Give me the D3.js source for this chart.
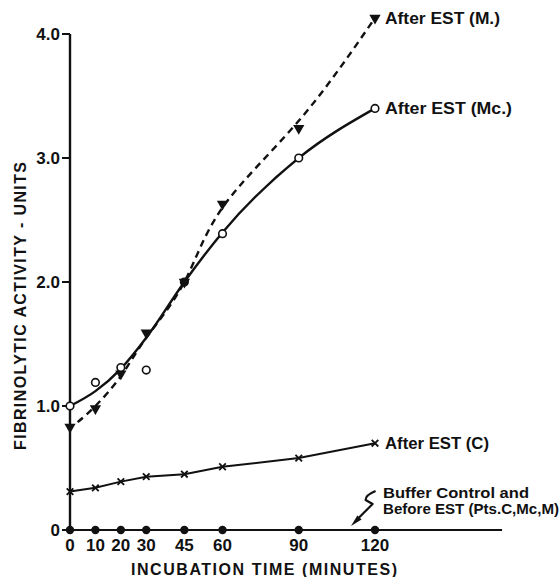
<!DOCTYPE html>
<html>
<head>
<meta charset="utf-8">
<script src="https://cdn.jsdelivr.net/npm/d3@7"></script>
<style>
  body { margin: 0; background: #fff; }
  svg { display: block; }
  text { font-family: "Liberation Sans", Arial, sans-serif; font-weight: bold; fill: #111; }
</style>
</head>
<body>
<div id="chart"></div>
<script>
// incubation times (minutes)
var times = [0, 10, 20, 30, 45, 60, 90, 120];
var tickLabels = ["0", "10", "20", "30", "45", "60", "90", "120"];
var yTicks = [0, 1, 2, 3, 4];
var yTickLabels = ["0", "1.0", "2.0", "3.0", "4.0"];

// fibrinolytic activity, units
var afterM  = [0.83, 0.98, 1.26, 1.59, 2.0, 2.63, 3.24, 4.13];
var mFitTimes = [3, 10, 20, 30, 45, 60, 90, 120];
var mFit    = [0.87, 1.0, 1.24, 1.55, 2.0, 2.6, 3.3, 4.13];  // dashed curve drawn through M
var afterMc = [1.0, 1.19, 1.31, 1.29, 2.0, 2.39, 3.0, 3.40];
var mcFit   = [1.0, 1.12, 1.30, 1.55, 2.0, 2.40, 3.0, 3.40]; // smooth curve drawn through Mc
var afterC  = [0.31, 0.34, 0.39, 0.43, 0.45, 0.51, 0.58, 0.70];
var buffer  = [0, 0, 0, 0, 0, 0, 0, 0];

var width = 559, height = 577;

var svg = d3.select("#chart").append("svg")
    .attr("width", width).attr("height", height);

var x = d3.scaleLinear().domain([0, 120]).range([70, 375]);
var y = d3.scaleLinear().domain([0, 4]).range([530, 34]);

var ink = "#111";

// axes
svg.append("line")
    .attr("x1", x(0)).attr("x2", x(170))
    .attr("y1", y(0)).attr("y2", y(0))
    .attr("stroke", ink).attr("stroke-width", 2);

svg.append("line")
    .attr("x1", x(0)).attr("x2", x(0))
    .attr("y1", y(4)).attr("y2", y(0))
    .attr("stroke", ink).attr("stroke-width", 2.4);

svg.selectAll(".ytick")
    .data(yTicks)
    .enter()
    .append("line")
    .attr("x1", x(0) - 8).attr("x2", x(0))
    .attr("y1", function (d) { return y(d); })
    .attr("y2", function (d) { return y(d); })
    .attr("stroke", ink).attr("stroke-width", 2);

svg.selectAll(".ylab")
    .data(yTicks)
    .enter()
    .append("text")
    .attr("x", x(0) - 10)
    .attr("y", function (d) { return y(d) + 6; })
    .attr("text-anchor", "end")
    .attr("font-size", 17)
    .text(function (d, i) { return yTickLabels[i]; });

svg.selectAll(".xlab")
    .data(times)
    .enter()
    .append("text")
    .attr("x", function (d) { return x(d); })
    .attr("y", 551)
    .attr("text-anchor", "middle")
    .attr("font-size", 17)
    .text(function (d, i) { return tickLabels[i]; });

svg.append("text")
    .attr("x", 131).attr("y", 575)
    .attr("font-size", 16)
    .attr("textLength", 266)
    .attr("lengthAdjust", "spacing")
    .text("INCUBATION TIME (MINUTES)");

svg.append("text")
    .attr("transform", "translate(26,450) rotate(-90)")
    .attr("font-size", 16)
    .attr("textLength", 288)
    .attr("lengthAdjust", "spacing")
    .text("FIBRINOLYTIC ACTIVITY - UNITS");

// lines
var lineM = d3.line()
    .x(function (d, i) { return x(mFitTimes[i]); })
    .y(function (d) { return y(d); })
    .curve(d3.curveNatural);

var lineSmooth = d3.line()
    .x(function (d, i) { return x(times[i]); })
    .y(function (d) { return y(d); })
    .curve(d3.curveMonotoneX);

var lineStraight = d3.line()
    .x(function (d, i) { return x(times[i]); })
    .y(function (d) { return y(d); });

svg.append("path")
    .attr("d", lineM(mFit))
    .attr("fill", "none").attr("stroke", ink)
    .attr("stroke-width", 2.4)
    .attr("stroke-dasharray", "7,5");

svg.append("path")
    .attr("d", lineSmooth(mcFit))
    .attr("fill", "none").attr("stroke", ink)
    .attr("stroke-width", 2.4);

svg.append("path")
    .attr("d", lineStraight(afterC))
    .attr("fill", "none").attr("stroke", ink)
    .attr("stroke-width", 2);

// markers
var tri = d3.symbol().type(d3.symbolTriangle).size(55);

svg.selectAll(".m")
    .data(afterM)
    .enter()
    .append("path")
    .attr("d", tri)
    .attr("transform", function (d, i) {
        return "translate(" + x(times[i]) + "," + y(d) + ") rotate(180)";
    })
    .attr("fill", ink);

svg.selectAll(".mc")
    .data(afterMc)
    .enter()
    .append("circle")
    .attr("cx", function (d, i) { return x(times[i]); })
    .attr("cy", function (d) { return y(d); })
    .attr("r", 3.8)
    .attr("fill", function (d, i) { return times[i] === 45 ? ink : "#fff"; })
    .attr("stroke", ink).attr("stroke-width", 1.6);

var cross = d3.symbol().type(d3.symbolX).size(30);

svg.selectAll(".c")
    .data(afterC)
    .enter()
    .append("path")
    .attr("d", cross)
    .attr("transform", function (d, i) {
        return "translate(" + x(times[i]) + "," + y(d) + ")";
    })
    .attr("fill", "none").attr("stroke", ink).attr("stroke-width", 1.8);

svg.selectAll(".b")
    .data(buffer)
    .enter()
    .append("circle")
    .attr("cx", function (d, i) { return x(times[i]); })
    .attr("cy", function (d) { return y(d); })
    .attr("r", 4.2)
    .attr("fill", ink);

// series labels
var last = times.length - 1;
var labels = [
    { text: "After EST (M.)", v: afterM[last], len: 115 },
    { text: "After EST (Mc.)", v: afterMc[last], len: 127 },
    { text: "After EST (C)", v: afterC[last], len: 104 }
];

svg.selectAll(".lab")
    .data(labels)
    .enter()
    .append("text")
    .attr("x", x(120) + 10)
    .attr("y", function (d) { return y(d.v) + 6; })
    .attr("font-size", 16)
    .attr("textLength", function (d) { return d.len; })
    .attr("lengthAdjust", "spacingAndGlyphs")
    .text(function (d) { return d.text; });

svg.append("text")
    .attr("x", 383).attr("y", 498)
    .attr("font-size", 15)
    .attr("textLength", 146)
    .attr("lengthAdjust", "spacingAndGlyphs")
    .text("Buffer Control and");

svg.append("text")
    .attr("x", 383).attr("y", 514)
    .attr("font-size", 15)
    .attr("textLength", 176)
    .attr("lengthAdjust", "spacingAndGlyphs")
    .text("Before EST (Pts.C,Mc,M)");

// zigzag arrow pointing at the baseline points
var ax = x(110), ay = y(0);
svg.append("path")
    .attr("d", "M" + (ax + 26) + "," + (ay - 39) +
               "Q" + (ax + 16) + "," + (ay - 35) + " " + (ax + 16) + "," + (ay - 30) +
               "L" + (ax + 23) + "," + (ay - 26) +
               "L" + (ax + 9) + "," + (ay - 12))
    .attr("fill", "none").attr("stroke", ink).attr("stroke-width", 2.2)
    .attr("stroke-linejoin", "round");

svg.append("path")
    .attr("d", "M" + (ax + 1.4) + "," + (ay - 4) +
               "L" + (ax + 7.8) + "," + (ay - 14.6) +
               "L" + (ax + 12) + "," + (ay - 10.4) + "Z")
    .attr("fill", ink);
</script>
</body>
</html>
